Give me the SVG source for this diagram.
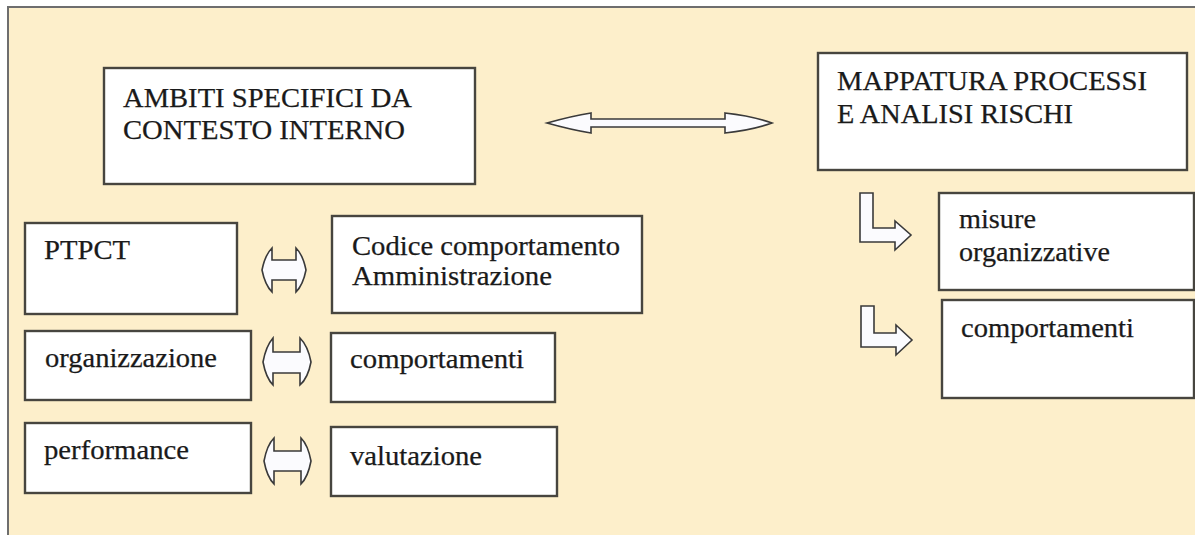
<svg xmlns="http://www.w3.org/2000/svg" width="1195" height="535" viewBox="0 0 1195 535">
<style>
.frame{fill:#fdefcb;stroke:#6e6e6e;stroke-width:2}
.box{fill:#ffffff;stroke:#47453f;stroke-width:2.4}
.arr{fill:#fbfbfe;stroke:#3a3a3a;stroke-width:1.6;stroke-linejoin:miter}
text{font-family:"Liberation Serif","Times New Roman",serif;font-size:27px;fill:#1a1a1a;stroke:#1a1a1a;stroke-width:0.25}
</style>
<rect width="1195" height="535" fill="#ffffff"/>
<rect id="frame" class="frame" x="8" y="7" width="1200" height="540"/>

<g id="ambiti">
<rect class="box" x="104" y="68" width="371" height="116"/>
<text x="123" y="107" textLength="289" lengthAdjust="spacingAndGlyphs">AMBITI SPECIFICI DA</text>
<text x="123" y="139" textLength="282" lengthAdjust="spacingAndGlyphs">CONTESTO INTERNO</text>
</g>
<g id="mappatura">
<rect class="box" x="818" y="53" width="369" height="117"/>
<text x="837" y="90" textLength="310" lengthAdjust="spacingAndGlyphs">MAPPATURA PROCESSI</text>
<text x="837" y="123" textLength="236" lengthAdjust="spacingAndGlyphs">E ANALISI RISCHI</text>
</g>
<g id="ptpct">
<rect class="box" x="25" y="223" width="212" height="91"/>
<text x="44" y="259" textLength="86" lengthAdjust="spacingAndGlyphs">PTPCT</text>
</g>
<g id="codice">
<rect class="box" x="332" y="216" width="310" height="97"/>
<text x="352" y="255" textLength="268" lengthAdjust="spacingAndGlyphs">Codice comportamento</text>
<text x="352" y="285" textLength="200" lengthAdjust="spacingAndGlyphs">Amministrazione</text>
</g>
<g id="organizzazione">
<rect class="box" x="25" y="331" width="226" height="69"/>
<text x="45" y="367" textLength="172" lengthAdjust="spacingAndGlyphs">organizzazione</text>
</g>
<g id="comportamenti-left">
<rect class="box" x="331" y="333" width="224" height="69"/>
<text x="350" y="368" textLength="174" lengthAdjust="spacingAndGlyphs">comportamenti</text>
</g>
<g id="performance">
<rect class="box" x="25" y="423" width="226" height="70"/>
<text x="44" y="459" textLength="145" lengthAdjust="spacingAndGlyphs">performance</text>
</g>
<g id="valutazione">
<rect class="box" x="331" y="427" width="226" height="69"/>
<text x="350" y="465" textLength="132" lengthAdjust="spacingAndGlyphs">valutazione</text>
</g>
<g id="misure">
<rect class="box" x="939" y="193" width="255" height="97"/>
<text x="959" y="228" textLength="77" lengthAdjust="spacingAndGlyphs">misure</text>
<text x="959" y="261" textLength="151" lengthAdjust="spacingAndGlyphs">organizzative</text>
</g>
<g id="comportamenti-right">
<rect class="box" x="942" y="300" width="252" height="98"/>
<text x="961" y="337" textLength="173" lengthAdjust="spacingAndGlyphs">comportamenti</text>
</g>

<g id="connectors">
<path class="arr" d="M547,123 Q572,116 591,113 L591,119 L725,119 L725,113 Q752,116 772,123 Q752,130 725,133 L725,127 L591,127 L591,133 Q572,130 547,123 Z"/>
<path class="arr" d="M262,270 Q265,255 272,248 L272,260 L296,260 L296,248 Q303,255 306,270 Q303,285 296,292 L296,280 L272,280 L272,292 Q265,285 262,270 Z"/>
<path class="arr" d="M263,362 Q266,346 273,338 L273,352 L300,352 L300,338 Q308,346 311,362 Q308,378 300,385 L300,373 L273,373 L273,385 Q266,378 263,362 Z"/>
<path class="arr" d="M264,461 Q267,445 274,438 L274,451 L301,451 L301,438 Q308,445 311,461 Q308,477 301,484 L301,471 L274,471 L274,484 Q267,477 264,461 Z"/>
<path class="arr" d="M860,193 L873,193 L873,228 L895,228 L895,221 L911,235 L895,250 L895,242 L860,242 Z"/>
<path class="arr" d="M861,306 L874,306 L874,333 L896,333 L896,325 L912,340 L896,355 L896,347 L861,347 Z"/>
</g>
</svg>
